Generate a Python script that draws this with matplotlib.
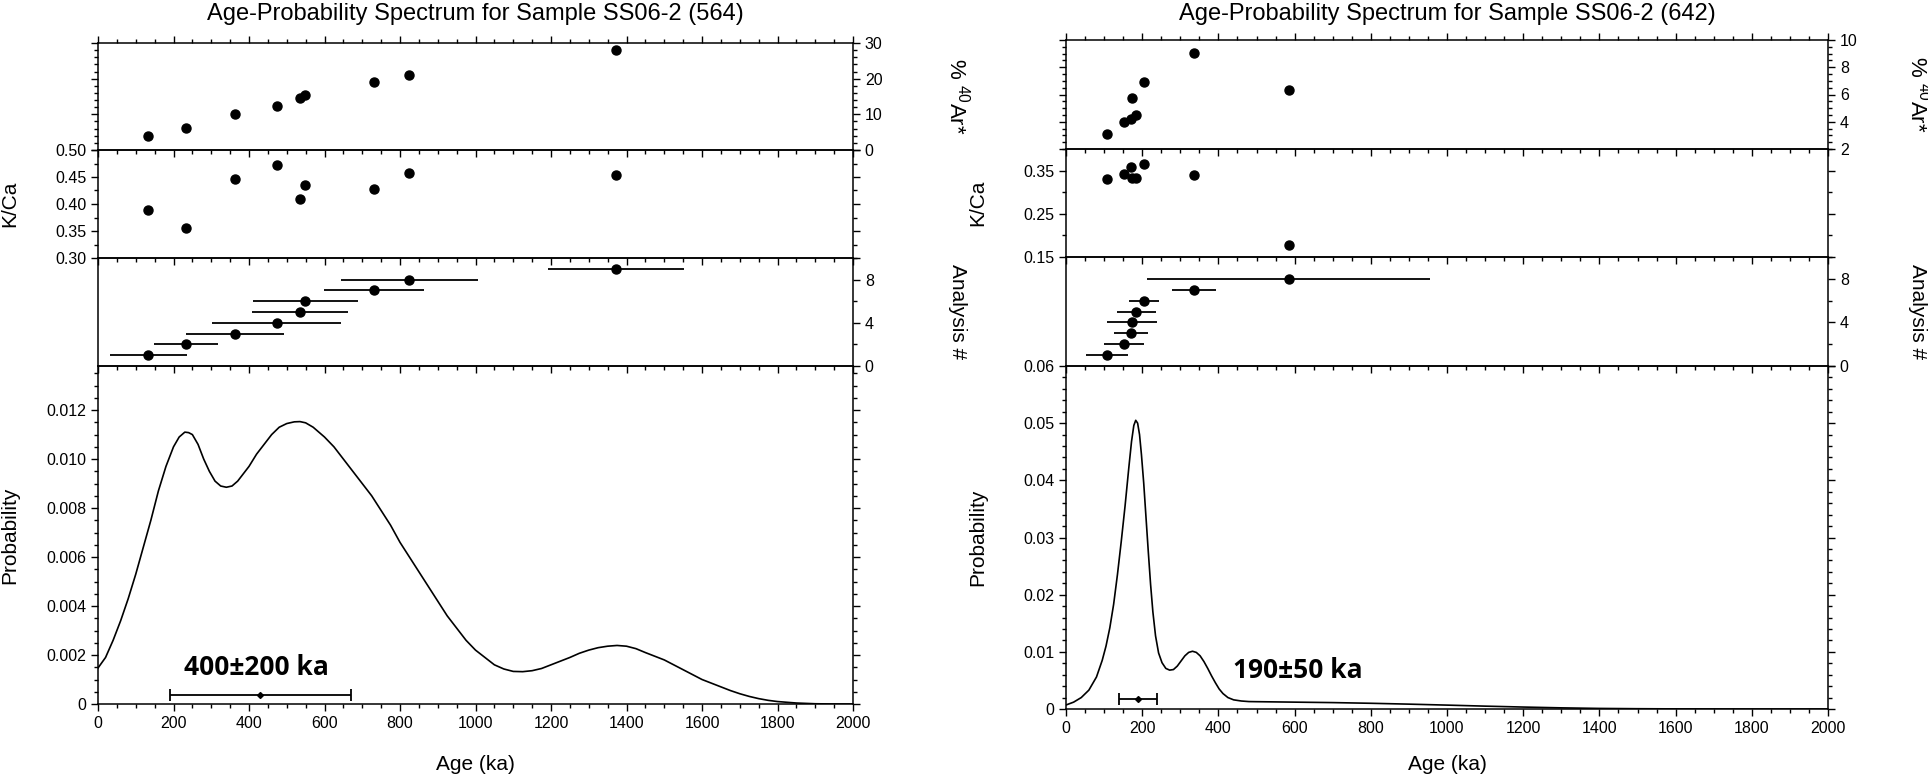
import matplotlib
matplotlib.use("Agg")
import matplotlib.pyplot as plt
from matplotlib.ticker import MultipleLocator, FixedLocator, FuncFormatter

plt.rcParams['font.family'] = ['Liberation Sans', 'DejaVu Sans']
plt.rcParams['mathtext.default'] = 'regular'

# ---- sample SS06-2 (564) ----
ages_564 = [133, 233, 363, 473, 535, 549, 731, 825, 1371]
errs_564 = [102, 85, 131, 170, 127, 139, 133, 181, 180]
ar_564 = [4.0, 6.3, 10.1, 12.3, 14.6, 15.3, 19.1, 21.0, 27.9]
kca_564 = [0.388, 0.356, 0.447, 0.472, 0.410, 0.435, 0.428, 0.457, 0.453]
curve_age_564 = [0, 20, 40, 60, 80, 100, 120, 140, 160, 180, 200, 215, 230, 240,
                 250, 265, 280, 295, 310, 325, 340, 355, 370, 385, 400, 420, 440,
                 460, 480, 500, 520, 535, 550, 570, 600, 625, 650, 675, 700, 725,
                 750, 775, 800, 825, 850, 875, 900, 925, 950, 975, 1000, 1025,
                 1050, 1075, 1100, 1125, 1150, 1175, 1200, 1225, 1250, 1275, 1300,
                 1325, 1350, 1375, 1400, 1425, 1450, 1475, 1500, 1525, 1550, 1575,
                 1600, 1625, 1650, 1675, 1700, 1725, 1750, 1775, 1800, 1850, 1900,
                 1950, 2000]
curve_prob_564 = [0.00147, 0.0019, 0.0026, 0.0034, 0.0043, 0.0053, 0.0064, 0.0075,
                  0.0087, 0.0097, 0.0105, 0.0109, 0.0111, 0.01108, 0.0110, 0.0106,
                  0.0100, 0.0095, 0.0091, 0.0089, 0.00885, 0.0089, 0.0091, 0.0094,
                  0.0097, 0.0102, 0.0106, 0.0110, 0.0113, 0.01145, 0.01152, 0.01153,
                  0.01148, 0.0113, 0.0109, 0.0105, 0.0100, 0.0095, 0.0090, 0.0085,
                  0.0079, 0.0073, 0.0066, 0.0060, 0.0054, 0.0048, 0.0042, 0.0036,
                  0.0031, 0.0026, 0.0022, 0.0019, 0.0016, 0.00143, 0.00133, 0.00132,
                  0.00136, 0.00145, 0.0016, 0.00175, 0.0019, 0.00207, 0.0022, 0.0023,
                  0.00236, 0.00239, 0.00236, 0.00226, 0.0021, 0.00195, 0.0018,
                  0.0016, 0.0014, 0.0012, 0.0010, 0.00085, 0.0007, 0.00055, 0.00042,
                  0.00031, 0.00022, 0.00015, 0.0001, 0.00004, 0.00001, 0.0, 0.0]
mean_564 = 430
mean_err_564 = 240
label_564 = "400±200 ka"

# ---- sample SS06-2 (642) ----
ages_642 = [108, 152, 170, 173, 184, 205, 335, 584]
errs_642 = [55, 52, 45, 66, 51, 40, 58, 372]
ar_642 = [3.12, 3.95, 4.22, 5.73, 4.51, 6.93, 9.03, 6.3]
kca_642 = [0.330, 0.341, 0.358, 0.332, 0.332, 0.366, 0.339, 0.178]
curve_age_642 = [0, 20, 40, 60, 80, 95, 105, 115, 125, 135, 145, 155, 165, 172,
                 178, 183, 188, 193, 198, 204, 210, 216, 222, 228, 235, 243, 252,
                 262, 272, 282, 292, 302, 312, 322, 332, 342, 352, 362, 372, 382,
                 392, 402, 412, 425, 440, 460, 480, 500, 600, 700, 800, 900, 1000,
                 1100, 1200, 1300, 1400, 1500, 1600, 1800, 2000]
curve_prob_642 = [0.0007, 0.0012, 0.0020, 0.0033, 0.0056, 0.0085, 0.0110, 0.0142,
                  0.0183, 0.0235, 0.0293, 0.0355, 0.0423, 0.0468, 0.0496, 0.0505,
                  0.0500, 0.0480, 0.0445, 0.0395, 0.0335, 0.0275, 0.0218, 0.0170,
                  0.0128, 0.0098, 0.0081, 0.0071, 0.0068, 0.0069, 0.0075, 0.0084,
                  0.0093, 0.0099, 0.0101, 0.0099, 0.0093, 0.0083, 0.0071, 0.0058,
                  0.0046, 0.0035, 0.0027, 0.0020, 0.0016, 0.0014, 0.0013, 0.00128,
                  0.0012, 0.00112, 0.0010, 0.00085, 0.00068, 0.0005, 0.00034,
                  0.0002, 0.0001, 0.00005, 0.00002, 0.0, 0.0]
mean_642 = 190
mean_err_642 = 50
label_642 = "190±50 ka"

W, H = 1928, 781
TICK = 11.5
LAB = 15


def px_rect(x0, x1, y0, y1):
    return [x0 / W, 1 - y1 / H, (x1 - x0) / W, (y1 - y0) / H]


def style_x(ax, top=False, labels=False):
    ax.set_xlim(0, 2000)
    ax.xaxis.set_major_locator(MultipleLocator(200))
    ax.xaxis.set_minor_locator(MultipleLocator(50))
    ax.tick_params(axis='x', which='both', direction='out', bottom=True, top=top,
                   labelbottom=labels, labeltop=False, labelsize=TICK)
    ax.tick_params(axis='x', which='major', length=5, width=1)
    ax.tick_params(axis='x', which='minor', length=3, width=1)


def style_y(ax, lim, major, minor, labels_left, labels_right, left=True, right=True,
            fmt=None):
    ax.set_ylim(*lim)
    if isinstance(major, list):
        ax.yaxis.set_major_locator(FixedLocator(major))
    else:
        ax.yaxis.set_major_locator(MultipleLocator(major))
    ax.yaxis.set_minor_locator(MultipleLocator(minor))
    ax.tick_params(axis='y', which='both', direction='out', left=left, right=right,
                   labelleft=labels_left, labelright=labels_right, labelsize=TICK)
    ax.tick_params(axis='y', which='major', length=5, width=1)
    ax.tick_params(axis='y', which='minor', length=3, width=1)
    if fmt:
        ax.yaxis.set_major_formatter(FuncFormatter(fmt))


def prob_formatter(decimals):
    def fmt(v, pos):
        if abs(v) < 1e-12:
            return "0"
        return f"{v:.{decimals}f}"
    return fmt


def draw_sample(x0, x1, rows, title, ages, errs, ar, kca, c_age, c_prob,
                mean, mean_err, mean_y, label, label_xy, ar_cfg, kca_cfg, prob_cfg,
                prob_decimals, left_lab_x, right_lab_x):
    axes = []
    for (y0, y1) in rows:
        ax = fig.add_axes(px_rect(x0, x1, y0, y1))
        ax.patch.set_visible(False)
        for s in ax.spines.values():
            s.set_linewidth(1.1)
        axes.append(ax)
    ax_ar, ax_kca, ax_an, ax_pr = axes

    ax_ar.plot(ages, ar, 'o', color='black', ms=6.5)
    style_x(ax_ar, top=True)
    style_y(ax_ar, ar_cfg[0], ar_cfg[1], ar_cfg[2], False, True,
            fmt=lambda v, p: f"{v:g}")

    ax_kca.plot(ages, kca, 'o', color='black', ms=6.5)
    style_x(ax_kca)
    style_y(ax_kca, kca_cfg[0], kca_cfg[1], kca_cfg[2], True, False,
            fmt=lambda v, p: f"{v:.2f}")

    idx = list(range(1, len(ages) + 1))
    ax_an.errorbar(ages, idx, xerr=errs, fmt='o', color='black', ms=6.5,
                   elinewidth=1.3, capsize=0)
    style_x(ax_an)
    style_y(ax_an, (0, 10), 4, 2, False, True, left=False,
            fmt=lambda v, p: f"{v:g}")

    ax_pr.plot(c_age, c_prob, color='black', lw=1.2)
    ax_pr.errorbar([mean], [mean_y], xerr=[mean_err], fmt='D', color='black',
                   ms=3, elinewidth=1.3, capsize=4, capthick=1.3)
    ax_pr.text(label_xy[0], label_xy[1], label, fontsize=19, fontweight='bold',
               family=['Open Sans', 'DejaVu Sans'], ha='left', va='center')
    style_x(ax_pr, labels=True)
    style_y(ax_pr, prob_cfg[0], prob_cfg[1], prob_cfg[2], True, False,
            fmt=prob_formatter(prob_decimals))

    xc = (x0 + x1) / 2 / W
    fig.text(xc, 1 - 14 / H, title, ha='center', va='center', fontsize=17)
    fig.text(xc, 1 - 765 / H, "Age (ka)", ha='center', va='center', fontsize=LAB)

    def yc(r):
        return 1 - (r[0] + r[1]) / 2 / H

    fig.text(left_lab_x / W, yc(rows[1]), "K/Ca", rotation=90, ha='center',
             va='center', fontsize=LAB)
    fig.text(left_lab_x / W, yc(rows[3]), "Probability", rotation=90, ha='center',
             va='center', fontsize=LAB)
    fig.text(right_lab_x / W, yc(rows[0]), "% $^{40}$Ar*", rotation=270,
             ha='center', va='center', fontsize=LAB + 1)
    fig.text(right_lab_x / W, yc(rows[2]), "Analysis #", rotation=270,
             ha='center', va='center', fontsize=LAB)


fig = plt.figure(figsize=(W / 100, H / 100), dpi=100)

draw_sample(98, 853, [(43, 150), (150, 258), (258, 366), (366, 704)],
            "Age-Probability Spectrum for Sample SS06-2 (564)",
            ages_564, errs_564, ar_564, kca_564, curve_age_564, curve_prob_564,
            mean_564, mean_err_564, 0.00035, label_564, (228, 0.00147),
            ((0, 30), 10, 2), ((0.30, 0.50), 0.05, 0.025), ((0, 0.0138), 0.002, 0.0005),
            3, 10, 957)

draw_sample(1066, 1828, [(40, 149), (149, 257), (257, 366), (366, 709)],
            "Age-Probability Spectrum for Sample SS06-2 (642)",
            ages_642, errs_642, ar_642, kca_642, curve_age_642, curve_prob_642,
            mean_642, mean_err_642, 0.0017, label_642, (438, 0.0068),
            ((2, 10), 2, 0.5), ((0.15, 0.40), [0.15, 0.25, 0.35], 0.05),
            ((0, 0.06), 0.01, 0.002), 2,
            978, 1918)

fig.savefig("out.png", dpi=100)
